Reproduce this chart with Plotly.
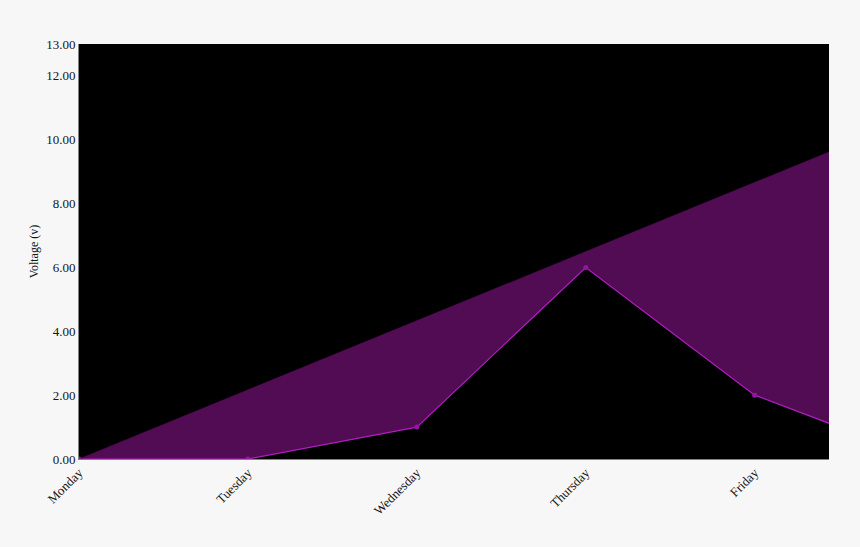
import plotly.graph_objects as go

days = ["Monday", "Tuesday", "Wednesday", "Thursday", "Friday", "Saturday"]
voltage = [0, 0, 1, 6, 2, 0]
upper = [0, 2.17, 4.33, 6.5, 8.67, 10.83]
y_ticks = [0, 2, 4, 6, 8, 10, 12, 13]
y_labels = ["%.2f" % v for v in y_ticks]

fig = go.Figure()

# lower series (drawn first so the band can fill up to it)
fig.add_trace(go.Scatter(x=days, y=voltage, mode='lines+markers',
                         line=dict(color='rgb(176, 30, 192)', width=1.2),
                         marker=dict(size=5, color='rgb(150, 20, 165)')))

# upper band edge
fig.add_trace(go.Scatter(x=days, y=upper, mode='lines', fill='tonexty',
                         fillcolor='rgb(82, 12, 84)',
                         line=dict(color='rgb(82, 12, 84)', width=0.5)))

fig.update_layout(
    width=860, height=547,
    showlegend=False,
    paper_bgcolor='rgb(247, 247, 247)',
    plot_bgcolor='black',
    font=dict(family='Liberation Serif, Times New Roman, serif', size=13,
              color='rgb(20, 20, 20)'),
    margin={"l": 79, "r": 31, "t": 44, "b": 88},
    xaxis=dict(
        type='category',
        range=[0, 4.44],
        showgrid=False,
        zeroline=False,
        showline=True,
        linecolor='rgb(130, 130, 130)',
        tickangle=-45,
        tickmode='array',
        tickvals=days[:5],
        ticktext=days[:5],
        tickfont=dict(family='Liberation Serif', size=13, color='rgb(20, 20, 20)'),
    ),
    yaxis=dict(
        range=[0, 13],
        showgrid=False,
        zeroline=False,
        showline=True,
        linecolor='rgb(130, 130, 130)',
        tickmode='array',
        tickvals=y_ticks,
        ticktext=y_labels,
        tickfont=dict(family='Liberation Serif', size=13, color='rgb(20, 20, 20)'),
        title=dict(text='Voltage (v)',
                   font=dict(family='Liberation Serif', size=12, color='rgb(20, 20, 20)'),
                   standoff=4),
    ),
)

# page has the same grey as the figure and no body margin
fig.write_html("out.html", config={"displayModeBar": False},
               post_script="document.body.style.margin='0';"
                           "document.body.style.background='rgb(247,247,247)';")
